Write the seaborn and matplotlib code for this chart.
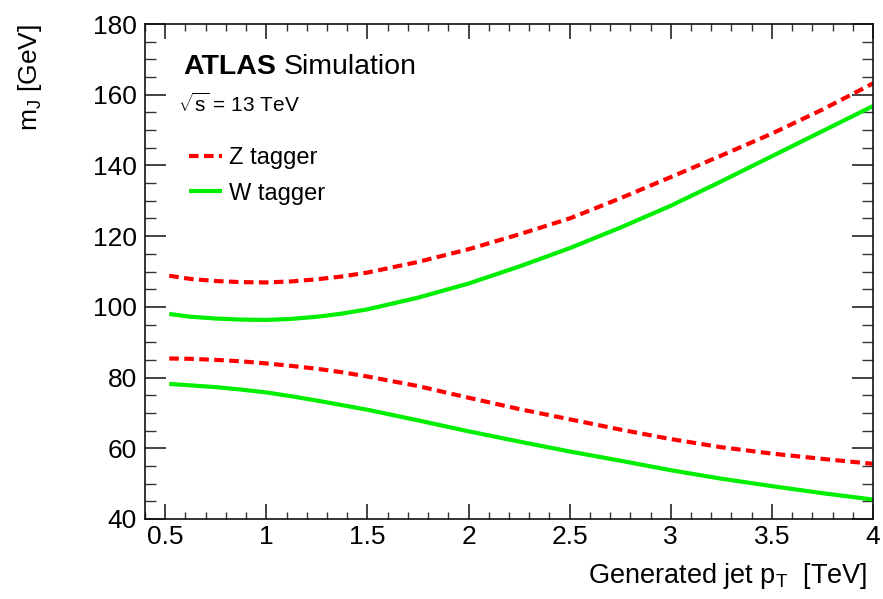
import matplotlib
matplotlib.use("Agg")
import matplotlib.pyplot as plt
from matplotlib.ticker import MultipleLocator
import seaborn as sns
import pandas as pd

# Generated jet pT [TeV]
pt = [0.52, 0.625, 0.75, 0.875, 1.0, 1.125, 1.25, 1.375, 1.5, 1.75, 2.0, 2.25, 2.5,
      2.75, 3.0, 3.25, 3.5, 3.75, 4.0]

# Mass window edges [GeV]
z_upper = [108.8, 107.9, 107.3, 107.0, 106.9, 107.2, 107.8, 108.6, 109.7, 112.7, 116.3,
           120.5, 125.0, 130.7, 136.7, 142.8, 149.0, 155.8, 163.2]
z_lower = [85.4, 85.3, 85.0, 84.6, 84.0, 83.3, 82.5, 81.5, 80.3, 77.6, 74.3,
           71.1, 68.2, 65.3, 62.6, 60.3, 58.5, 57.0, 55.6]
w_upper = [98.0, 97.2, 96.7, 96.4, 96.3, 96.6, 97.2, 98.1, 99.3, 102.6, 106.6,
           111.4, 116.6, 122.4, 128.6, 135.5, 142.6, 149.7, 156.8]
w_lower = [78.2, 77.8, 77.3, 76.6, 75.8, 74.7, 73.5, 72.2, 70.9, 67.9, 64.8,
           61.9, 59.1, 56.5, 53.8, 51.4, 49.3, 47.3, 45.5]

x_ticks = [0.5, 1, 1.5, 2, 2.5, 3, 3.5, 4]
x_tick_labels = ["0.5", "1", "1.5", "2", "2.5", "3", "3.5", "4"]
y_ticks = [40, 60, 80, 100, 120, 140, 160, 180]

sns.set_theme(style="ticks")
plt.rcParams["font.family"] = ["Liberation Sans", "DejaVu Sans"]
plt.rcParams["text.color"] = "black"
plt.rcParams["axes.labelcolor"] = "black"
plt.rcParams["mathtext.fontset"] = "custom"
plt.rcParams["mathtext.rm"] = "Liberation Sans"
plt.rcParams["mathtext.it"] = "Liberation Sans:italic"
plt.rcParams["mathtext.bf"] = "Liberation Sans:bold"

frames = []
for tagger, bound, vals in [("Z tagger", "upper", z_upper), ("Z tagger", "lower", z_lower),
                            ("W tagger", "upper", w_upper), ("W tagger", "lower", w_lower)]:
    frames.append(pd.DataFrame({"pt": pt, "mass": vals, "tagger": tagger, "bound": bound}))
df = pd.concat(frames, ignore_index=True)

fig = plt.figure(figsize=(8.83, 5.99), dpi=100)
ax = fig.add_axes([145 / 883, 1 - 519 / 599, (873 - 145) / 883, (519 - 24) / 599])

styles = {"Z tagger": dict(color="#ff0000", dashes=(2.3, 1.3)),
          "W tagger": dict(color="#00ee00", dashes=())}

for (tagger, bound), sub in df.groupby(["tagger", "bound"], sort=False):
    st = styles[tagger]
    sns.lineplot(data=sub, x="pt", y="mass", ax=ax, color=st["color"],
                 linewidth=3.0, estimator=None, sort=True,
                 label=tagger if bound == "upper" else None, legend=False)
    ln = ax.lines[-1]
    if st["dashes"]:
        ln.set_dashes(st["dashes"])
    ln.set_solid_capstyle("butt")
    ln.set_dash_capstyle("butt")
    ln.set_solid_joinstyle("round")

ax.set_xlim(0.4, 4.0)
ax.set_ylim(40, 180)
ax.set_xticks(x_ticks)
ax.set_xticklabels(x_tick_labels)
ax.set_yticks(y_ticks)
ax.xaxis.set_minor_locator(MultipleLocator(0.1))
ax.yaxis.set_minor_locator(MultipleLocator(5))
ax.set_xlabel("")
ax.set_ylabel("")

for side in ["top", "bottom", "left", "right"]:
    ax.spines[side].set_visible(True)
    ax.spines[side].set_linewidth(1.2)
    ax.spines[side].set_color("#111111")

ax.tick_params(axis="x", which="major", direction="in", length=11, width=1.1,
               top=True, bottom=True, labelsize=19, pad=4, colors="#111111")
ax.tick_params(axis="x", which="minor", direction="in", length=5, width=1.0,
               top=True, bottom=True, colors="#333333")
ax.tick_params(axis="y", which="major", direction="in", length=15, width=1.1,
               left=True, right=True, labelsize=19, pad=6, colors="#111111")
ax.tick_params(axis="y", which="minor", direction="in", length=8, width=1.0,
               left=True, right=True, colors="#333333")
for lab in ax.get_xticklabels() + ax.get_yticklabels():
    lab.set_color("black")

# Axis titles, aligned to the ends of the axes
fig.text(30 / 883, 1 - 24 / 599, r"m$_{\mathrm{J}}$ [GeV]", rotation=90,
         ha="center", va="top", fontsize=19)
fig.text(867 / 883, 1 - 583 / 599, r"Generated jet p$_{\mathrm{T}}$  [TeV]",
         ha="right", va="baseline", fontsize=19.5)

# Experiment label
fig.text(183 / 883, 1 - 74 / 599, "ATLAS", fontsize=20.5, fontweight="bold",
         ha="left", va="baseline")
fig.text(284 / 883, 1 - 74 / 599, "Simulation", fontsize=20.5, ha="left", va="baseline")
fig.text(178 / 883, 1 - 112 / 599, r"$\sqrt{\mathrm{s}}$ = 13 TeV", fontsize=15,
         ha="left", va="baseline")

leg = ax.legend(loc="upper left", bbox_to_anchor=(44 / 728, 1 - (147 - 24) / 495),
                frameon=False, fontsize=17, handlelength=1.4, handletextpad=0.3,
                labelspacing=0.58, borderaxespad=0, borderpad=0)

fig.savefig("out.png", dpi=100)
